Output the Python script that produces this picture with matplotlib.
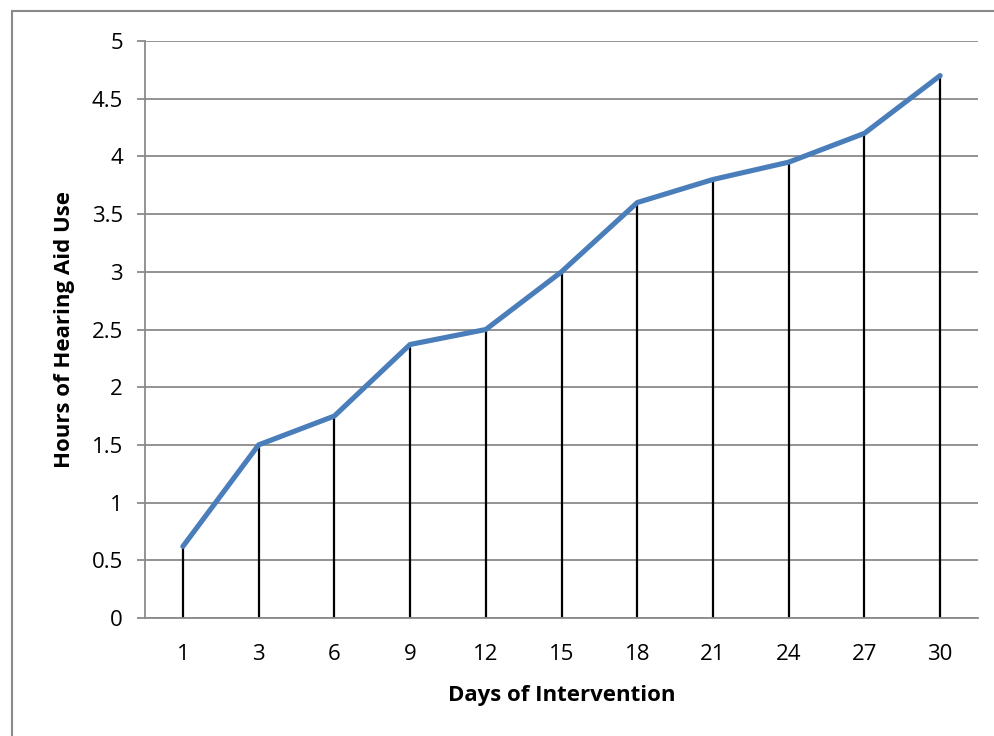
import matplotlib.pyplot as plt
from matplotlib.patches import Rectangle

# data
days = ['1', '3', '6', '9', '12', '15', '18', '21', '24', '27', '30']
hours = [0.62, 1.5, 1.75, 2.37, 2.5, 3.0, 3.6, 3.8, 3.95, 4.2, 4.7]
y_ticks = [0, 0.5, 1, 1.5, 2, 2.5, 3, 3.5, 4, 4.5, 5]
y_tick_labels = ['0', '0.5', '1', '1.5', '2', '2.5', '3', '3.5', '4', '4.5', '5']

plt.rcParams['font.family'] = ['Open Sans', 'DejaVu Sans']

W, H = 995, 736
fig = plt.figure(figsize=(W / 100, H / 100), dpi=100)
ax = fig.add_axes([145 / W, 1 - 618 / H, (978 - 145) / W, (618 - 41) / H])

x = list(range(len(days)))

# grid lines
for t in y_ticks:
    ax.axhline(t, color='#8a8a8a', lw=1.3, zorder=1)

# drop lines
ax.vlines(x, 0, hours, colors='black', lw=1.6, zorder=2)

# main line
ax.plot(x, hours, color='#4a7ebb', lw=3.7, solid_capstyle='round',
        solid_joinstyle='round', zorder=3)

ax.set_xlim(-0.5, len(days) - 0.5)
ax.set_ylim(0, 5)
ax.set_xticks(x)
ax.set_xticklabels(days)
ax.set_yticks(y_ticks)
ax.set_yticklabels(y_tick_labels)

for side in ['top', 'right']:
    ax.spines[side].set_visible(False)
ax.spines['left'].set_color('#8a8a8a')
ax.spines['bottom'].set_color('#8a8a8a')
ax.spines['left'].set_linewidth(1.3)
ax.spines['bottom'].set_linewidth(1.3)

ax.tick_params(axis='x', length=0, pad=19, labelsize=16)
ax.tick_params(axis='y', length=6, width=1.3, color='#8a8a8a', pad=10, labelsize=16)

ax.set_xlabel('Days of Intervention', fontsize=16, fontweight='bold', labelpad=14)
ax.set_ylabel('Hours of Hearing Aid Use', fontsize=16, fontweight='bold', labelpad=12)

# outer chart border
fig.patches.append(Rectangle((12 / W, -0.1), 1.2, (1 - 11 / H) + 0.1,
                             transform=fig.transFigure, fill=False,
                             edgecolor='#8a8a8a', lw=1.5))

plt.savefig('out.png', dpi=100)
